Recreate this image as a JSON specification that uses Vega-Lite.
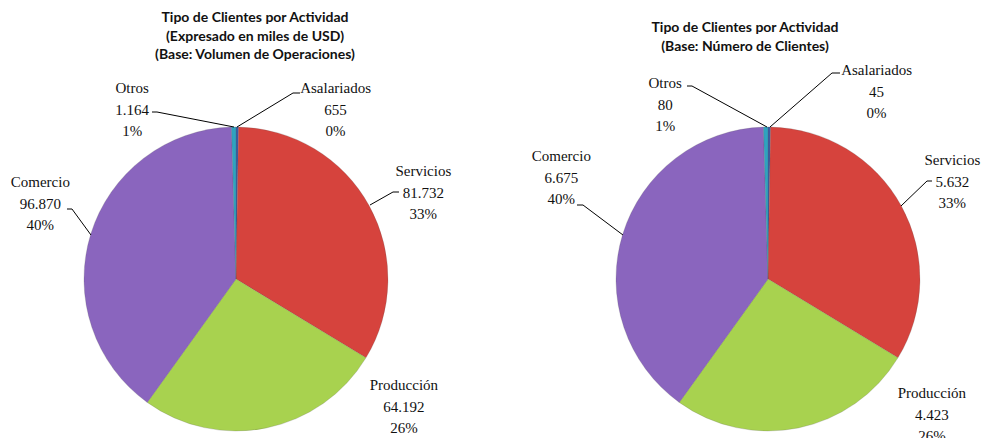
{
  "$schema": "https://vega.github.io/schema/vega-lite/v6.json",
  "width": 992,
  "height": 318,
  "autosize": {"type": "none"},
  "padding": {"left": 0, "top": 120, "right": 0, "bottom": 0},
  "background": "white",
  "config": {
    "view": {"stroke": null},
    "text": {"font": "Liberation Serif", "fontSize": 15, "lineHeight": 21.5, "lineBreak": "\n", "align": "center", "baseline": "middle", "color": "#111111"},
    "rule": {"color": "#000000", "strokeWidth": 1}
  },
  "data": {
    "values": [
      {"Panel": "Volumen", "Orden": 1, "Tipo": "Asalariados", "Valor": 655, "Pct": 0},
      {"Panel": "Volumen", "Orden": 2, "Tipo": "Servicios", "Valor": 81732, "Pct": 33},
      {"Panel": "Volumen", "Orden": 3, "Tipo": "Producción", "Valor": 64192, "Pct": 26},
      {"Panel": "Volumen", "Orden": 4, "Tipo": "Comercio", "Valor": 96870, "Pct": 40},
      {"Panel": "Volumen", "Orden": 5, "Tipo": "Otros", "Valor": 1164, "Pct": 1},
      {"Panel": "Clientes", "Orden": 1, "Tipo": "Asalariados", "Valor": 45, "Pct": 0},
      {"Panel": "Clientes", "Orden": 2, "Tipo": "Servicios", "Valor": 5632, "Pct": 33},
      {"Panel": "Clientes", "Orden": 3, "Tipo": "Producción", "Valor": 4423, "Pct": 26},
      {"Panel": "Clientes", "Orden": 4, "Tipo": "Comercio", "Valor": 6675, "Pct": 40},
      {"Panel": "Clientes", "Orden": 5, "Tipo": "Otros", "Valor": 80, "Pct": 1}
    ]
  },
  "transform": [
    {"stack": "Valor", "groupby": ["Panel"], "sort": [{"field": "Orden", "order": "ascending"}], "as": ["v0", "v1"], "offset": "normalize"},
    {"calculate": "(datum.v0 + datum.v1) / 2", "as": "mid"},
    {"calculate": "datum.Tipo + '\\n' + replace(format(datum.Valor, ','), ',', '.') + '\\n' + datum.Pct + '%'", "as": "Etiqueta"}
  ],
  "encoding": {
    "x": {"field": "Panel", "type": "nominal", "scale": {"type": "point", "domain": ["Volumen", "Clientes"], "padding": 0.432331, "align": 0.51304, "round": false}, "axis": null}
  },
  "layer": [
    {
      "mark": {"type": "arc", "radius": 152, "stroke": "#555555", "strokeOpacity": 0.35, "strokeWidth": 0.6},
      "encoding": {
        "theta": {"field": "v0", "type": "quantitative", "stack": null, "scale": {"domain": [0, 1]}},
        "theta2": {"field": "v1"},
        "color": {"field": "Tipo", "type": "nominal", "legend": null,
          "scale": {"domain": ["Asalariados", "Servicios", "Producción", "Comercio", "Otros"], "range": ["#3A5FA8", "#D6433D", "#A8D24F", "#8A65BE", "#2FA3C0"]}}
      }
    },
    {
      "transform": [{"filter": "datum.Panel == 'Volumen' && datum.Tipo == 'Comercio'"}],
      "mark": {"type": "text", "font": "Lato", "fontWeight": "bold", "fontSize": 14, "lineHeight": 18.5, "color": "#111111", "dx": 19, "dy": -261},
      "encoding": {
        "y": {"datum": 0, "type": "quantitative", "scale": {"domain": [-1, 1], "nice": false, "zero": false}, "axis": null},
        "text": {"value": ["Tipo de Clientes por Actividad", "(Expresado en miles de USD)", "(Base: Volumen de Operaciones)"]}
      }
    },
    {
      "transform": [{"filter": "datum.Panel == 'Clientes' && datum.Tipo == 'Comercio'"}],
      "mark": {"type": "text", "font": "Lato", "fontWeight": "bold", "fontSize": 14, "lineHeight": 18.5, "color": "#111111", "dx": -23, "dy": -251},
      "encoding": {
        "y": {"datum": 0, "type": "quantitative"},
        "text": {"value": ["Tipo de Clientes por Actividad", "(Base: Número de Clientes)"]}
      }
    },
    {"transform": [{"filter": "datum.Panel == 'Volumen' && datum.Tipo == 'Asalariados'"}], "mark": {"type": "rule", "xOffset": 1, "yOffset": -152, "x2Offset": 57, "y2Offset": -186}, "encoding": {"x2": {"field": "Panel"}, "y": {"datum": 0, "type": "quantitative"}, "y2": {"datum": 0}}},
    {"transform": [{"filter": "datum.Panel == 'Volumen' && datum.Tipo == 'Asalariados'"}], "mark": {"type": "rule", "xOffset": 57, "yOffset": -186, "x2Offset": 64, "y2Offset": -186}, "encoding": {"x2": {"field": "Panel"}, "y": {"datum": 0, "type": "quantitative"}, "y2": {"datum": 0}}},
    {"transform": [{"filter": "datum.Panel == 'Volumen' && datum.Tipo == 'Otros'"}], "mark": {"type": "rule", "xOffset": -2, "yOffset": -152, "x2Offset": -79, "y2Offset": -167}, "encoding": {"x2": {"field": "Panel"}, "y": {"datum": 0, "type": "quantitative"}, "y2": {"datum": 0}}},
    {"transform": [{"filter": "datum.Panel == 'Volumen' && datum.Tipo == 'Otros'"}], "mark": {"type": "rule", "xOffset": -79, "yOffset": -167, "x2Offset": -84, "y2Offset": -167}, "encoding": {"x2": {"field": "Panel"}, "y": {"datum": 0, "type": "quantitative"}, "y2": {"datum": 0}}},
    {"transform": [{"filter": "datum.Panel == 'Volumen' && datum.Tipo == 'Servicios'"}], "mark": {"type": "rule", "xOffset": 134, "yOffset": -74, "x2Offset": 157, "y2Offset": -87}, "encoding": {"x2": {"field": "Panel"}, "y": {"datum": 0, "type": "quantitative"}, "y2": {"datum": 0}}},
    {"transform": [{"filter": "datum.Panel == 'Volumen' && datum.Tipo == 'Servicios'"}], "mark": {"type": "rule", "xOffset": 157, "yOffset": -87, "x2Offset": 163, "y2Offset": -87}, "encoding": {"x2": {"field": "Panel"}, "y": {"datum": 0, "type": "quantitative"}, "y2": {"datum": 0}}},
    {"transform": [{"filter": "datum.Panel == 'Volumen' && datum.Tipo == 'Comercio'"}], "mark": {"type": "rule", "xOffset": -145, "yOffset": -44, "x2Offset": -164, "y2Offset": -70}, "encoding": {"x2": {"field": "Panel"}, "y": {"datum": 0, "type": "quantitative"}, "y2": {"datum": 0}}},
    {"transform": [{"filter": "datum.Panel == 'Volumen' && datum.Tipo == 'Comercio'"}], "mark": {"type": "rule", "xOffset": -164, "yOffset": -70, "x2Offset": -169, "y2Offset": -70}, "encoding": {"x2": {"field": "Panel"}, "y": {"datum": 0, "type": "quantitative"}, "y2": {"datum": 0}}},
    {"transform": [{"filter": "datum.Panel == 'Clientes' && datum.Tipo == 'Asalariados'"}], "mark": {"type": "rule", "xOffset": 2, "yOffset": -152, "x2Offset": 64, "y2Offset": -206}, "encoding": {"x2": {"field": "Panel"}, "y": {"datum": 0, "type": "quantitative"}, "y2": {"datum": 0}}},
    {"transform": [{"filter": "datum.Panel == 'Clientes' && datum.Tipo == 'Asalariados'"}], "mark": {"type": "rule", "xOffset": 64, "yOffset": -206, "x2Offset": 72, "y2Offset": -206}, "encoding": {"x2": {"field": "Panel"}, "y": {"datum": 0, "type": "quantitative"}, "y2": {"datum": 0}}},
    {"transform": [{"filter": "datum.Panel == 'Clientes' && datum.Tipo == 'Otros'"}], "mark": {"type": "rule", "xOffset": -1, "yOffset": -152, "x2Offset": -76, "y2Offset": -193}, "encoding": {"x2": {"field": "Panel"}, "y": {"datum": 0, "type": "quantitative"}, "y2": {"datum": 0}}},
    {"transform": [{"filter": "datum.Panel == 'Clientes' && datum.Tipo == 'Otros'"}], "mark": {"type": "rule", "xOffset": -76, "yOffset": -193, "x2Offset": -81, "y2Offset": -193}, "encoding": {"x2": {"field": "Panel"}, "y": {"datum": 0, "type": "quantitative"}, "y2": {"datum": 0}}},
    {"transform": [{"filter": "datum.Panel == 'Clientes' && datum.Tipo == 'Servicios'"}], "mark": {"type": "rule", "xOffset": 133, "yOffset": -73, "x2Offset": 159, "y2Offset": -98}, "encoding": {"x2": {"field": "Panel"}, "y": {"datum": 0, "type": "quantitative"}, "y2": {"datum": 0}}},
    {"transform": [{"filter": "datum.Panel == 'Clientes' && datum.Tipo == 'Servicios'"}], "mark": {"type": "rule", "xOffset": 159, "yOffset": -98, "x2Offset": 164, "y2Offset": -98}, "encoding": {"x2": {"field": "Panel"}, "y": {"datum": 0, "type": "quantitative"}, "y2": {"datum": 0}}},
    {"transform": [{"filter": "datum.Panel == 'Clientes' && datum.Tipo == 'Comercio'"}], "mark": {"type": "rule", "xOffset": -145, "yOffset": -44, "x2Offset": -185, "y2Offset": -74}, "encoding": {"x2": {"field": "Panel"}, "y": {"datum": 0, "type": "quantitative"}, "y2": {"datum": 0}}},
    {"transform": [{"filter": "datum.Panel == 'Clientes' && datum.Tipo == 'Comercio'"}], "mark": {"type": "rule", "xOffset": -185, "yOffset": -74, "x2Offset": -191, "y2Offset": -74}, "encoding": {"x2": {"field": "Panel"}, "y": {"datum": 0, "type": "quantitative"}, "y2": {"datum": 0}}},
    {"transform": [{"filter": "datum.Panel == 'Volumen' && datum.Tipo == 'Asalariados'"}], "mark": {"type": "text", "radius": 190, "dx": 98, "dy": -1}, "encoding": {"theta": {"field": "mid", "type": "quantitative", "stack": null}, "text": {"field": "Etiqueta"}}},
    {"transform": [{"filter": "datum.Panel == 'Volumen' && datum.Tipo == 'Otros'"}], "mark": {"type": "text", "radius": 190, "dx": -101, "dy": -1}, "encoding": {"theta": {"field": "mid", "type": "quantitative", "stack": null}, "text": {"field": "Etiqueta"}}},
    {"transform": [{"filter": "datum.Panel == 'Volumen' && datum.Tipo == 'Servicios'"}], "mark": {"type": "text", "radius": 190, "dx": 21, "dy": -16}, "encoding": {"theta": {"field": "mid", "type": "quantitative", "stack": null}, "text": {"field": "Etiqueta"}}},
    {"transform": [{"filter": "datum.Panel == 'Volumen' && datum.Tipo == 'Comercio'"}], "mark": {"type": "text", "radius": 190, "dx": -14, "dy": -41}, "encoding": {"theta": {"field": "mid", "type": "quantitative", "stack": null}, "text": {"field": "Etiqueta"}}},
    {"transform": [{"filter": "datum.Panel == 'Volumen' && datum.Tipo == 'Producción'"}], "mark": {"type": "text", "radius": 190, "dx": 130, "dy": -80}, "encoding": {"theta": {"field": "mid", "type": "quantitative", "stack": null}, "text": {"field": "Etiqueta"}}},
    {"transform": [{"filter": "datum.Panel == 'Clientes' && datum.Tipo == 'Asalariados'"}], "mark": {"type": "text", "radius": 190, "dx": 107, "dy": -19}, "encoding": {"theta": {"field": "mid", "type": "quantitative", "stack": null}, "text": {"field": "Etiqueta"}}},
    {"transform": [{"filter": "datum.Panel == 'Clientes' && datum.Tipo == 'Otros'"}], "mark": {"type": "text", "radius": 190, "dx": -100, "dy": -6}, "encoding": {"theta": {"field": "mid", "type": "quantitative", "stack": null}, "text": {"field": "Etiqueta"}}},
    {"transform": [{"filter": "datum.Panel == 'Clientes' && datum.Tipo == 'Servicios'"}], "mark": {"type": "text", "radius": 190, "dx": 18, "dy": -27}, "encoding": {"theta": {"field": "mid", "type": "quantitative", "stack": null}, "text": {"field": "Etiqueta"}}},
    {"transform": [{"filter": "datum.Panel == 'Clientes' && datum.Tipo == 'Comercio'"}], "mark": {"type": "text", "radius": 190, "dx": -25, "dy": -67}, "encoding": {"theta": {"field": "mid", "type": "quantitative", "stack": null}, "text": {"field": "Etiqueta"}}},
    {"transform": [{"filter": "datum.Panel == 'Clientes' && datum.Tipo == 'Producción'"}], "mark": {"type": "text", "radius": 190, "dx": 126, "dy": -72}, "encoding": {"theta": {"field": "mid", "type": "quantitative", "stack": null}, "text": {"field": "Etiqueta"}}}
  ]
}
